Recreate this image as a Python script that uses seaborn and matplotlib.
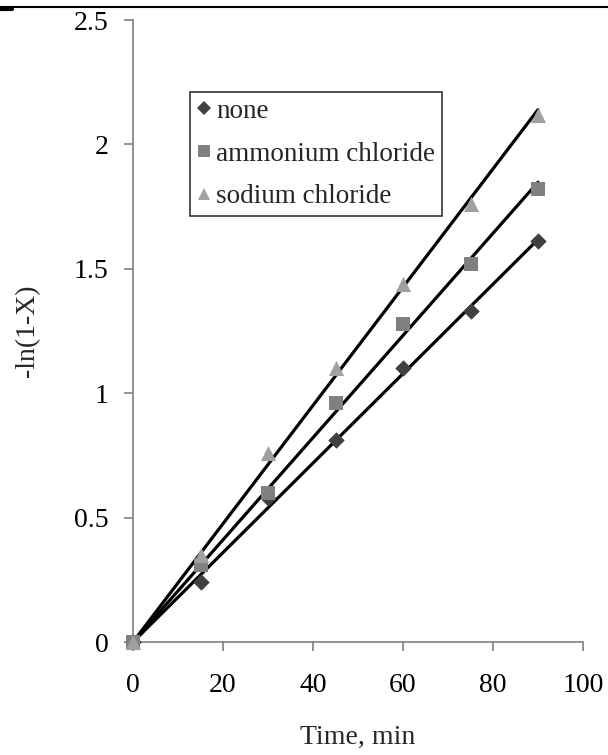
import numpy as np
import pandas as pd
import matplotlib
matplotlib.use("Agg")
import matplotlib.pyplot as plt
import seaborn as sns
from matplotlib.lines import Line2D

time_min = [0, 15, 30, 45, 60, 75, 90]
none_vals = [0.0, 0.24, 0.58, 0.81, 1.10, 1.33, 1.61]
ammonium_vals = [0.0, 0.31, 0.60, 0.96, 1.28, 1.52, 1.82]
sodium_vals = [0.0, 0.35, 0.76, 1.10, 1.44, 1.76, 2.12]
series_names = ["none", "ammonium chloride", "sodium chloride"]
x_ticks = [0, 20, 40, 60, 80, 100]
y_ticks = [0, 0.5, 1, 1.5, 2, 2.5]
y_tick_labels = ["0", "0.5", "1", "1.5", "2", "2.5"]

sns.set_theme(style="white")
plt.rcParams["font.family"] = ["Liberation Serif", "DejaVu Serif"]

rows = []
for name, vals in zip(series_names, [none_vals, ammonium_vals, sodium_vals]):
    for t, v in zip(time_min, vals):
        rows.append({"Time": t, "val": v, "series": name})
df = pd.DataFrame(rows)

# linear trendlines through the origin
fit_rows = []
for name, vals in zip(series_names, [none_vals, ammonium_vals, sodium_vals]):
    x = np.array(time_min, float)
    y = np.array(vals, float)
    k = (x * y).sum() / (x * x).sum()
    for t in [time_min[0], time_min[-1]]:
        fit_rows.append({"Time": t, "fit": k * t, "series": name})
fit = pd.DataFrame(fit_rows)

fig = plt.figure(figsize=(6.08, 7.55), dpi=100)
ax = fig.add_axes([133 / 608, 113 / 755, 450 / 608, 622 / 755])

sns.lineplot(data=fit, x="Time", y="fit", units="series", estimator=None,
             color="black", linewidth=2.3, ax=ax, legend=False, zorder=2)

markers = {"none": "D", "ammonium chloride": "s", "sodium chloride": "^"}
colors = {"none": "#404040", "ammonium chloride": "#808080", "sodium chloride": "#a0a0a0"}
sizes = {"none": 70, "ammonium chloride": 110, "sodium chloride": 120}
for name in series_names:
    sub = df[df["series"] == name]
    sns.scatterplot(data=sub, x="Time", y="val", marker=markers[name],
                    color=colors[name], s=sizes[name], linewidth=0, ax=ax,
                    zorder=3, legend=False, clip_on=False)

ax.set_xlim(0, 100)
ax.set_ylim(0, 2.5)
ax.set_xticks(x_ticks)
ax.set_yticks(y_ticks)
ax.set_yticklabels(y_tick_labels)
ax.tick_params(axis="both", bottom=True, left=True, direction="out", length=6.5,
               width=1.2, color="#808080", labelsize=20, labelcolor="black")
ax.tick_params(axis="x", pad=16)
ax.tick_params(axis="y", pad=11)
for s in ["top", "right"]:
    ax.spines[s].set_visible(False)
for s in ["left", "bottom"]:
    ax.spines[s].set_color("#808080")
    ax.spines[s].set_linewidth(1.2)
ax.set_xlabel("Time, min", fontsize=20, labelpad=19)
ax.set_ylabel("-ln(1-X)", fontsize=20, labelpad=24)

handles = [Line2D([], [], linestyle="none", marker=markers[n], color=colors[n],
                  markersize=ms, markeredgewidth=0)
           for n, ms in zip(series_names, [7, 9, 9])]
leg = ax.legend(handles, series_names, loc="upper left", bbox_to_anchor=(0.127, 0.884),
                borderaxespad=0, frameon=True, fancybox=False, fontsize=19.5,
                handlelength=0.5, handletextpad=0.2, labelspacing=0.65,
                borderpad=0.25)
leg.get_frame().set_edgecolor("black")
leg.get_frame().set_linewidth(1.2)

fig.add_artist(Line2D([0, 1], [1 - 7 / 755, 1 - 7 / 755], transform=fig.transFigure,
                      color="black", linewidth=1.5))
fig.add_artist(Line2D([0, 12 / 608], [1 - 9 / 755, 1 - 9 / 755], transform=fig.transFigure,
                      color="black", linewidth=3))

fig.savefig("out.png", dpi=100)
